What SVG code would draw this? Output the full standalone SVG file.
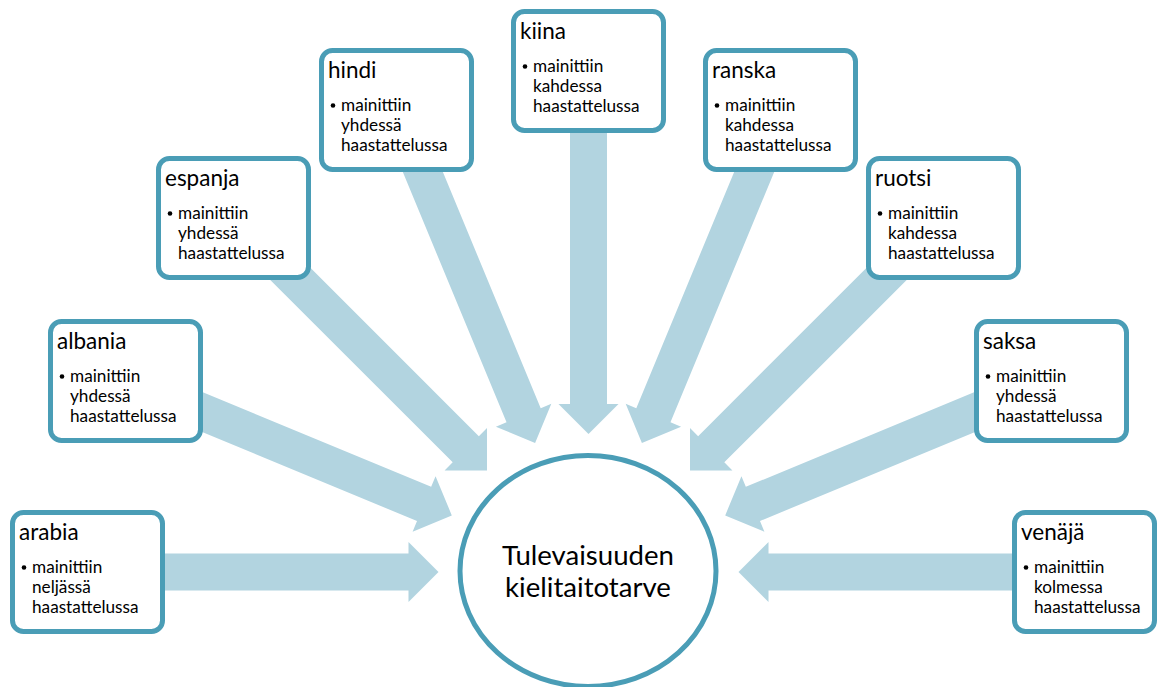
<svg xmlns="http://www.w3.org/2000/svg" xmlns:xlink="http://www.w3.org/1999/xlink" width="1157" height="687" viewBox="0 0 1157 687">
<style>
.box{fill:#fff;stroke:#4a9db6;stroke-width:5}
.arr{fill:#b2d4e0}
.t{font-family:Lato,"Liberation Sans",sans-serif;font-size:22.5px;fill:#000}
.b{font-family:Lato,"Liberation Sans",sans-serif;font-size:17.2px;fill:#000}
.c{font-family:Lato,"Liberation Sans",sans-serif;font-size:27.6px;fill:#000;text-anchor:middle}
.dot{fill:#000}
</style>
<defs>
<polygon id="arrow" class="arr" points="-370,-18.5 -30,-18.5 -30,-30 0,0 -30,30 -30,18.5 -370,18.5"/>
</defs>
<rect width="1157" height="687" fill="#fff"/>
<g id="connectors">
<use xlink:href="#arrow" href="#arrow" transform="translate(438.5,572) rotate(0)"/>
<use xlink:href="#arrow" href="#arrow" transform="translate(451.8,515.4) rotate(22.5)"/>
<use xlink:href="#arrow" href="#arrow" transform="translate(487,470.5) rotate(45)"/>
<use xlink:href="#arrow" href="#arrow" transform="translate(535.1,443) rotate(67.5)"/>
<use xlink:href="#arrow" href="#arrow" transform="translate(588.5,434) rotate(90)"/>
<use xlink:href="#arrow" href="#arrow" transform="translate(641.9,443) rotate(112.5)"/>
<use xlink:href="#arrow" href="#arrow" transform="translate(690,470.5) rotate(135)"/>
<use xlink:href="#arrow" href="#arrow" transform="translate(725.2,515.4) rotate(157.5)"/>
<use xlink:href="#arrow" href="#arrow" transform="translate(738.5,572) rotate(180)"/>
</g>
<g id="center">
<ellipse cx="588" cy="571" rx="128" ry="115.5" fill="#fff" stroke="#4a9db6" stroke-width="5"/>
<text class="c" x="588" y="565">Tulevaisuuden</text>
<text class="c" x="588" y="597">kielitaitotarve</text>
</g>
<g id="arabia" transform="translate(10,510)">
<rect class="box" x="2.5" y="2.5" width="150" height="119" rx="11"/>
<text class="t" x="9" y="30">arabia</text>
<circle class="dot" cx="14" cy="57.5" r="2.3"/>
<text class="b" x="22" y="63">mainittiin</text>
<text class="b" x="22" y="83">neljässä</text>
<text class="b" x="22" y="103">haastattelussa</text>
</g>
<g id="albania" transform="translate(48,319)">
<rect class="box" x="2.5" y="2.5" width="150" height="119" rx="11"/>
<text class="t" x="9" y="30">albania</text>
<circle class="dot" cx="14" cy="57.5" r="2.3"/>
<text class="b" x="22" y="63">mainittiin</text>
<text class="b" x="22" y="83">yhdessä</text>
<text class="b" x="22" y="103">haastattelussa</text>
</g>
<g id="espanja" transform="translate(156,156)">
<rect class="box" x="2.5" y="2.5" width="150" height="119" rx="11"/>
<text class="t" x="9" y="30">espanja</text>
<circle class="dot" cx="14" cy="57.5" r="2.3"/>
<text class="b" x="22" y="63">mainittiin</text>
<text class="b" x="22" y="83">yhdessä</text>
<text class="b" x="22" y="103">haastattelussa</text>
</g>
<g id="hindi" transform="translate(319,48)">
<rect class="box" x="2.5" y="2.5" width="150" height="119" rx="11"/>
<text class="t" x="9" y="30">hindi</text>
<circle class="dot" cx="14" cy="57.5" r="2.3"/>
<text class="b" x="22" y="63">mainittiin</text>
<text class="b" x="22" y="83">yhdessä</text>
<text class="b" x="22" y="103">haastattelussa</text>
</g>
<g id="kiina" transform="translate(511,9)">
<rect class="box" x="2.5" y="2.5" width="150" height="119" rx="11"/>
<text class="t" x="9" y="30">kiina</text>
<circle class="dot" cx="14" cy="57.5" r="2.3"/>
<text class="b" x="22" y="63">mainittiin</text>
<text class="b" x="22" y="83">kahdessa</text>
<text class="b" x="22" y="103">haastattelussa</text>
</g>
<g id="ranska" transform="translate(703,48)">
<rect class="box" x="2.5" y="2.5" width="150" height="119" rx="11"/>
<text class="t" x="9" y="30">ranska</text>
<circle class="dot" cx="14" cy="57.5" r="2.3"/>
<text class="b" x="22" y="63">mainittiin</text>
<text class="b" x="22" y="83">kahdessa</text>
<text class="b" x="22" y="103">haastattelussa</text>
</g>
<g id="ruotsi" transform="translate(866,156)">
<rect class="box" x="2.5" y="2.5" width="150" height="119" rx="11"/>
<text class="t" x="9" y="30">ruotsi</text>
<circle class="dot" cx="14" cy="57.5" r="2.3"/>
<text class="b" x="22" y="63">mainittiin</text>
<text class="b" x="22" y="83">kahdessa</text>
<text class="b" x="22" y="103">haastattelussa</text>
</g>
<g id="saksa" transform="translate(974,319)">
<rect class="box" x="2.5" y="2.5" width="150" height="119" rx="11"/>
<text class="t" x="9" y="30">saksa</text>
<circle class="dot" cx="14" cy="57.5" r="2.3"/>
<text class="b" x="22" y="63">mainittiin</text>
<text class="b" x="22" y="83">yhdessä</text>
<text class="b" x="22" y="103">haastattelussa</text>
</g>
<g id="venaja" transform="translate(1012,510)">
<rect class="box" x="2.5" y="2.5" width="140" height="119" rx="11"/>
<text class="t" x="9" y="30">venäjä</text>
<circle class="dot" cx="14" cy="57.5" r="2.3"/>
<text class="b" x="22" y="63">mainittiin</text>
<text class="b" x="22" y="83">kolmessa</text>
<text class="b" x="22" y="103">haastattelussa</text>
</g>
</svg>
